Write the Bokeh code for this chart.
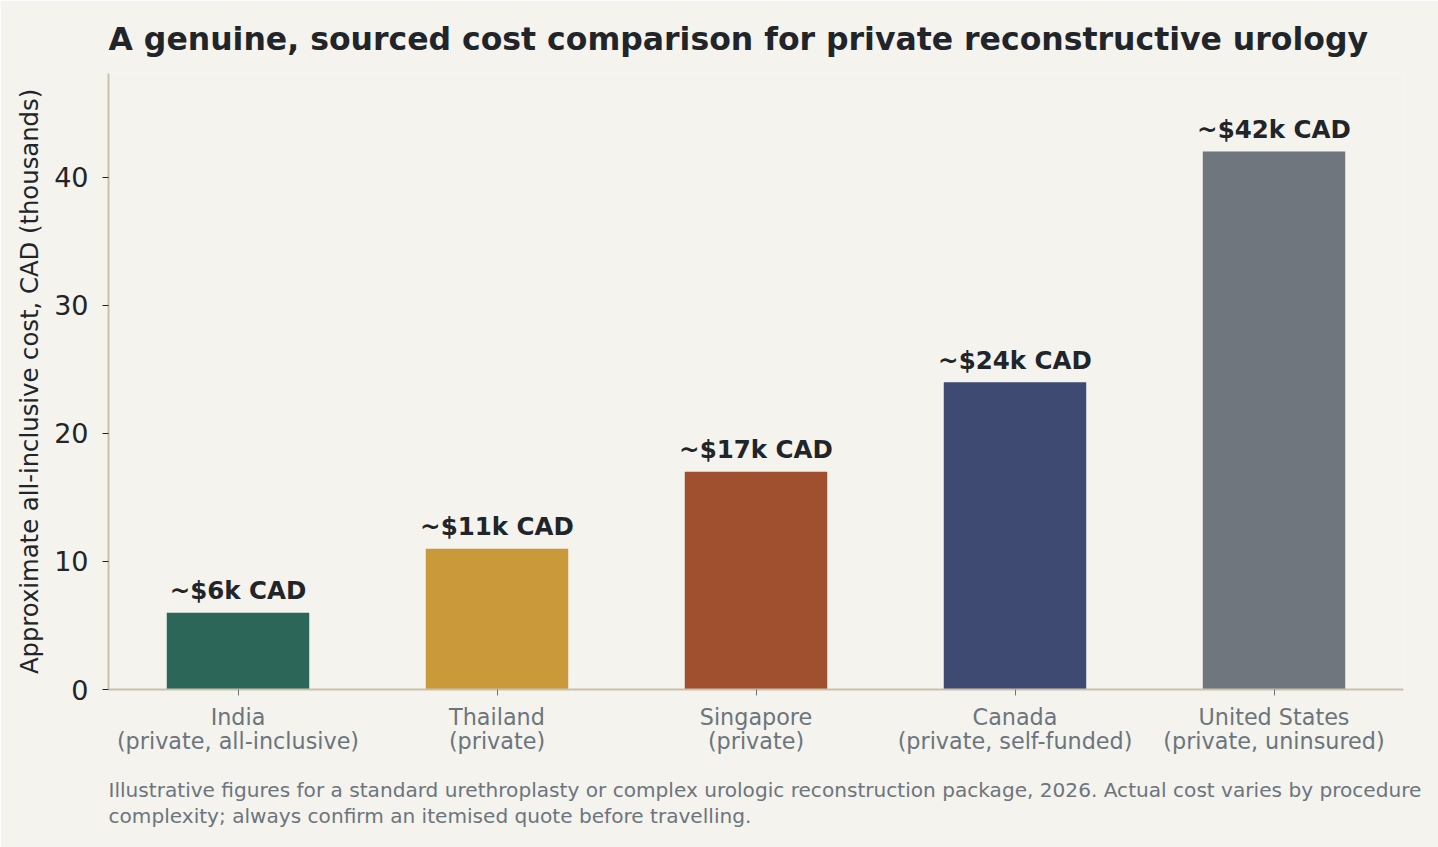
from bokeh.plotting import figure
from bokeh.models import Title, FixedTicker, ColumnDataSource, Range1d, FactorRange
from bokeh.core.properties import value
from bokeh.embed import file_html
from bokeh.resources import INLINE

# ---- data ----
countries = ["India", "Thailand", "Singapore", "Canada", "United States"]
subtitles = ["(private, all-inclusive)", "(private)", "(private)",
             "(private, self-funded)", "(private, uninsured)"]
costs_k = [6, 11, 17, 24, 42]
bar_labels = ["~$6k CAD", "~$11k CAD", "~$17k CAD", "~$24k CAD", "~$42k CAD"]
bar_colors = ["#2b6659", "#c9993a", "#a0502e", "#3e4a72", "#6f767e"]
y_ticks = [0, 10, 20, 30, 40]

title_text = "A genuine, sourced cost comparison for private reconstructive urology"
y_label = "Approximate all-inclusive cost, CAD (thousands)"
foot_text = ("Illustrative figures for a standard urethroplasty or complex urologic "
             "reconstruction package, 2026. Actual cost varies by procedure\n"
             "complexity; always confirm an itemised quote before travelling.")

FONT = "DejaVu Sans"
BG = "#f4f3ee"
DARK = "#212529"
GREY = "#6c757d"
SPINE = "#c9c1aa"

factors = [f"{c}\n{s}" for c, s in zip(countries, subtitles)]
src = ColumnDataSource(dict(x=factors, top=costs_k, label=bar_labels, color=bar_colors))

p = figure(x_range=FactorRange(*factors, range_padding=0), y_range=Range1d(0, 48.1),
           frame_width=1295, frame_height=616,
           min_border_left=108, min_border_right=35, min_border_top=73, min_border_bottom=158,
           output_backend="svg", toolbar_location=None,
           background_fill_color=BG, border_fill_color=BG)
p.outline_line_color = None
p.xgrid.grid_line_color = None
p.ygrid.grid_line_color = None

p.vbar(x="x", top="top", width=0.55, color="color", line_color=None, source=src)
p.text(x="x", y="top", text="label", source=src, text_align="center",
       text_baseline="alphabetic", y_offset=-22, text_font=value(FONT),
       text_font_style="bold", text_font_size="24.5px", text_color=DARK)

# title
p.title.text = title_text
p.title.align = "left"
p.title.vertical_align = "bottom"
p.title.text_font = FONT
p.title.text_font_size = "31.5px"
p.title.text_font_style = "bold"
p.title.text_color = DARK
p.title.standoff = 34

# axes
xa = p.xaxis[0]
xa.axis_line_color = SPINE
xa.axis_line_width = 2
xa.major_tick_line_color = GREY
xa.major_tick_out = 6
xa.major_tick_in = 0
xa.minor_tick_line_color = None
xa.major_label_standoff = 8
xa.major_label_text_font = FONT
xa.major_label_text_font_size = "22.3px"
xa.major_label_text_color = GREY
xa.major_label_text_line_height = 0.95

ya = p.yaxis[0]
ya.ticker = FixedTicker(ticks=y_ticks)
ya.axis_line_color = SPINE
ya.axis_line_width = 2
ya.major_tick_line_color = DARK
ya.major_tick_out = 6
ya.major_tick_in = 0
ya.minor_tick_line_color = None
ya.major_label_standoff = 14
ya.major_label_text_font = FONT
ya.major_label_text_font_size = "27px"
ya.major_label_text_color = DARK
ya.axis_label = y_label
ya.axis_label_text_font = FONT
ya.axis_label_text_font_size = "24.3px"
ya.axis_label_text_font_style = "normal"
ya.axis_label_text_color = DARK
ya.axis_label_standoff = 7

p.add_layout(Title(text=foot_text, align="left", text_font=FONT, text_font_size="20.1px",
                   text_font_style="normal", text_color=GREY, text_line_height=1.12,
                   standoff=36), "below")

open("out.html", "w").write(file_html(p, INLINE))
